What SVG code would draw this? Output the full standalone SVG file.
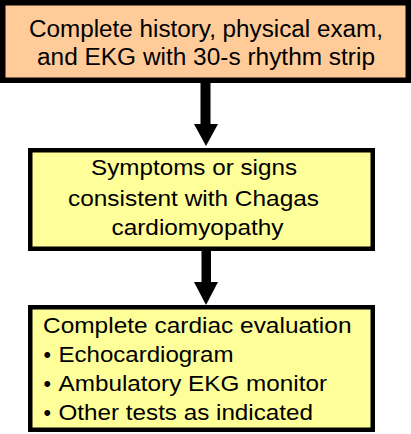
<svg xmlns="http://www.w3.org/2000/svg" width="411" height="434" viewBox="0 0 411 434">
<style>
.box{stroke:#000;stroke-width:4.5}
.t{font-family:"Liberation Sans",Arial,sans-serif;font-size:21.5px;fill:#000}
.h{font-size:23px}
</style>
<rect width="411" height="434" fill="#fff"/>
<g id="connectors">
<rect x="200.5" y="83" width="10" height="42" fill="#000"/>
<polygon points="194,124 218,124 206,146" fill="#000"/>
<rect x="201.5" y="251" width="9.5" height="32" fill="#000"/>
<polygon points="194,282 218,282 206,305" fill="#000"/>
</g>
<g id="node1">
<rect x="2.75" y="2.75" width="405.5" height="77.5" fill="#FFCC99" stroke="#000" stroke-width="5.5"/>
<text class="t h" x="29" y="37" textLength="354" lengthAdjust="spacingAndGlyphs">Complete history, physical exam,</text>
<text class="t h" x="37" y="65" textLength="338" lengthAdjust="spacingAndGlyphs">and EKG with 30-s rhythm strip</text>
</g>
<g id="node2">
<rect class="box" x="30.25" y="150.25" width="342.5" height="98.5" fill="#FFFF99"/>
<text class="t" x="91" y="175" textLength="206" lengthAdjust="spacingAndGlyphs">Symptoms or signs</text>
<text class="t" x="68" y="205.5" textLength="251" lengthAdjust="spacingAndGlyphs">consistent with Chagas</text>
<text class="t" x="111.5" y="234.5" textLength="172" lengthAdjust="spacingAndGlyphs">cardiomyopathy</text>
</g>
<g id="node3">
<rect class="box" x="30.25" y="307.25" width="342.5" height="122.5" fill="#FFFF99"/>
<text class="t" x="43" y="333" textLength="308.5" lengthAdjust="spacingAndGlyphs">Complete cardiac evaluation</text>
<text class="t" x="43.5" y="362">•</text>
<text class="t" x="58.5" y="362" textLength="175" lengthAdjust="spacingAndGlyphs">Echocardiogram</text>
<text class="t" x="43.5" y="391">•</text>
<text class="t" x="58.5" y="391" textLength="268.5" lengthAdjust="spacingAndGlyphs">Ambulatory EKG monitor</text>
<text class="t" x="43.5" y="420">•</text>
<text class="t" x="58.5" y="420" textLength="254.5" lengthAdjust="spacingAndGlyphs">Other tests as indicated</text>
</g>
</svg>
